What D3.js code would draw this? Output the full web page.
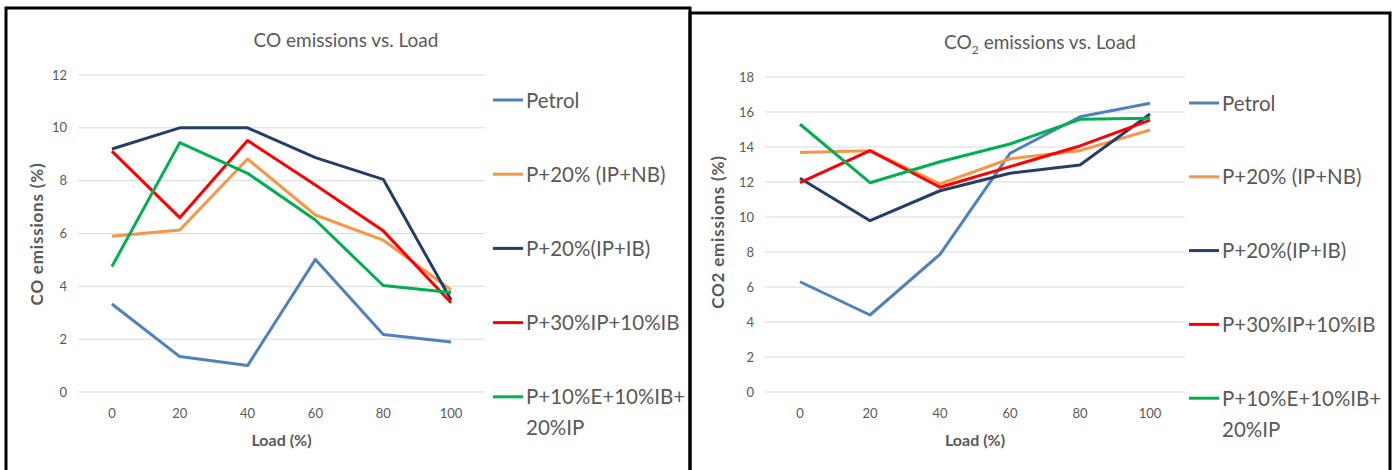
<!DOCTYPE html>
<html>
<head>
<meta charset="utf-8">
<script src="https://cdn.jsdelivr.net/npm/d3@7"></script>
<style>
  body { margin: 0; background: #fff; }
  svg { display: block; font-family: Lato, "Open Sans", sans-serif; }
</style>
</head>
<body>
<svg width="1396" height="470"></svg>
<script>
// load steps on the x axis
const loads = [0, 20, 40, 60, 80, 100];

const seriesNames = ["Petrol", "P+20% (IP+NB)", "P+20%(IP+IB)", "P+30%IP+10%IB", "P+10%E+10%IB+\n20%IP"];
const seriesColors = ["#4f81bd", "#f79646", "#243f63", "#ff0000", "#00b050"];

// CO emissions (%)
const coPetrol = [3.33, 1.34, 1.0, 5.02, 2.18, 1.89];
const coNB     = [5.9, 6.13, 8.82, 6.7, 5.75, 3.86];
const coIB     = [9.2, 10.0, 10.0, 8.87, 8.05, 3.48];
const coIP30   = [9.12, 6.6, 9.52, 7.84, 6.1, 3.38];
const coE10    = [4.75, 9.44, 8.28, 6.51, 4.03, 3.77];
const coTicks  = [0, 2, 4, 6, 8, 10, 12];

// CO2 emissions (%)
const co2Petrol = [6.3, 4.4, 7.87, 13.64, 15.73, 16.5];
const co2NB     = [13.68, 13.79, 11.89, 13.33, 13.79, 14.97];
const co2IB     = [12.21, 9.79, 11.5, 12.5, 12.97, 15.89];
const co2IP30   = [11.96, 13.79, 11.7, 12.88, 14.06, 15.54];
const co2E10    = [15.3, 11.96, 13.16, 14.17, 15.58, 15.64];
const co2Ticks  = [0, 2, 4, 6, 8, 10, 12, 14, 16, 18];

const svg = d3.select("svg");
const grey = "#595959";

function drawChart(opt) {
    const g = svg.append("g");

    // frame
    g.append("path")
        .attr("d", `M${opt.box[0]},470 V${opt.box[1]} H${opt.box[2]} V470`)
        .attr("fill", "none")
        .attr("stroke", "#000")
        .attr("stroke-width", 3);

    const x = d3.scalePoint().domain(loads).range(opt.xRange).padding(0.5);
    const y = d3.scaleLinear().domain([0, d3.max(opt.ticks)]).range(opt.yRange);

    // gridlines
    g.append("g").selectAll("line")
        .data(opt.ticks)
        .enter().append("line")
        .attr("x1", opt.xRange[0]).attr("x2", opt.xRange[1])
        .attr("y1", d => y(d)).attr("y2", d => y(d))
        .attr("stroke", "#d9d9d9").attr("stroke-width", 1);

    // y tick labels
    g.append("g").selectAll("text")
        .data(opt.ticks)
        .enter().append("text")
        .attr("x", opt.xRange[0] - 11)
        .attr("y", d => y(d) + 4.5)
        .attr("text-anchor", "end")
        .attr("font-size", 13)
        .attr("fill", grey)
        .text(d => d);

    // x tick labels
    g.append("g").selectAll("text")
        .data(loads)
        .enter().append("text")
        .attr("x", d => x(d))
        .attr("y", opt.yRange[0] + 26)
        .attr("text-anchor", "middle")
        .attr("font-size", 13)
        .attr("fill", grey)
        .text(d => d);

    // axis titles
    g.append("text")
        .attr("x", (x(0) + x(100)) / 2)
        .attr("y", 446)
        .attr("text-anchor", "middle")
        .attr("font-size", 16).attr("font-weight", "bold")
        .attr("fill", grey)
        .text("Load (%)");

    g.append("text")
        .attr("transform", `translate(${opt.yTitleX},${opt.yTitleY}) rotate(-90)`)
        .attr("text-anchor", "middle")
        .attr("font-size", 17).attr("font-weight", "bold")
        .attr("letter-spacing", 0.8)
        .attr("fill", grey)
        .text(opt.yTitle);

    // chart title
    const t = g.append("text")
        .attr("x", opt.titleX)
        .attr("y", opt.titleY)
        .attr("text-anchor", "middle")
        .attr("font-size", 19)
        .attr("fill", grey);
    opt.title.forEach(p => {
        const s = t.append("tspan").text(p.text);
        if (p.sub) s.attr("font-size", 12).attr("dy", 5);
        if (p.after) s.attr("dy", -5).attr("dx", 5);
    });

    // lines
    const line = d3.line()
        .x((d, i) => x(loads[i]))
        .y(d => y(d));

    g.append("g").selectAll("path")
        .data(opt.series)
        .enter().append("path")
        .attr("d", d => line(d))
        .attr("fill", "none")
        .attr("stroke", (d, i) => seriesColors[i])
        .attr("stroke-width", 3)
        .attr("stroke-linejoin", "round");

    // legend
    const leg = g.append("g").selectAll("g")
        .data(seriesNames)
        .enter().append("g")
        .attr("transform", (d, i) => `translate(${opt.legendX},${opt.legendY + i * opt.legendStep})`);

    leg.append("line")
        .attr("x1", 0).attr("x2", 30)
        .attr("stroke", (d, i) => seriesColors[i])
        .attr("stroke-width", 3);

    leg.append("text")
        .attr("font-size", 20.5)
        .attr("fill", grey)
        .each(function(d) {
            d.split("\n").forEach((part, j) => {
                d3.select(this).append("tspan")
                    .attr("x", 33)
                    .attr("y", 7.5 + j * 31)
                    .text(part);
            });
        });
}

drawChart({
    box: [6, 8, 690],
    xRange: [78, 485],
    yRange: [392, 75],
    ticks: coTicks,
    series: [coPetrol, coNB, coIB, coIP30, coE10],
    yTitle: "CO emissions (%)",
    yTitleX: 43, yTitleY: 234,
    title: [{ text: "CO emissions vs. Load" }],
    titleX: 346, titleY: 47,
    legendX: 493, legendY: 100, legendStep: 74.2
});

drawChart({
    box: [690, 13, 1390],
    xRange: [765, 1185],
    yRange: [392, 77],
    ticks: co2Ticks,
    series: [co2Petrol, co2NB, co2IB, co2IP30, co2E10],
    yTitle: "CO2 emissions (%)",
    yTitleX: 724, yTitleY: 232,
    title: [{ text: "CO" }, { text: "2", sub: true }, { text: "emissions vs. Load", after: true }],
    titleX: 1040, titleY: 49,
    legendX: 1189, legendY: 103, legendStep: 73.8
});
</script>
</body>
</html>
